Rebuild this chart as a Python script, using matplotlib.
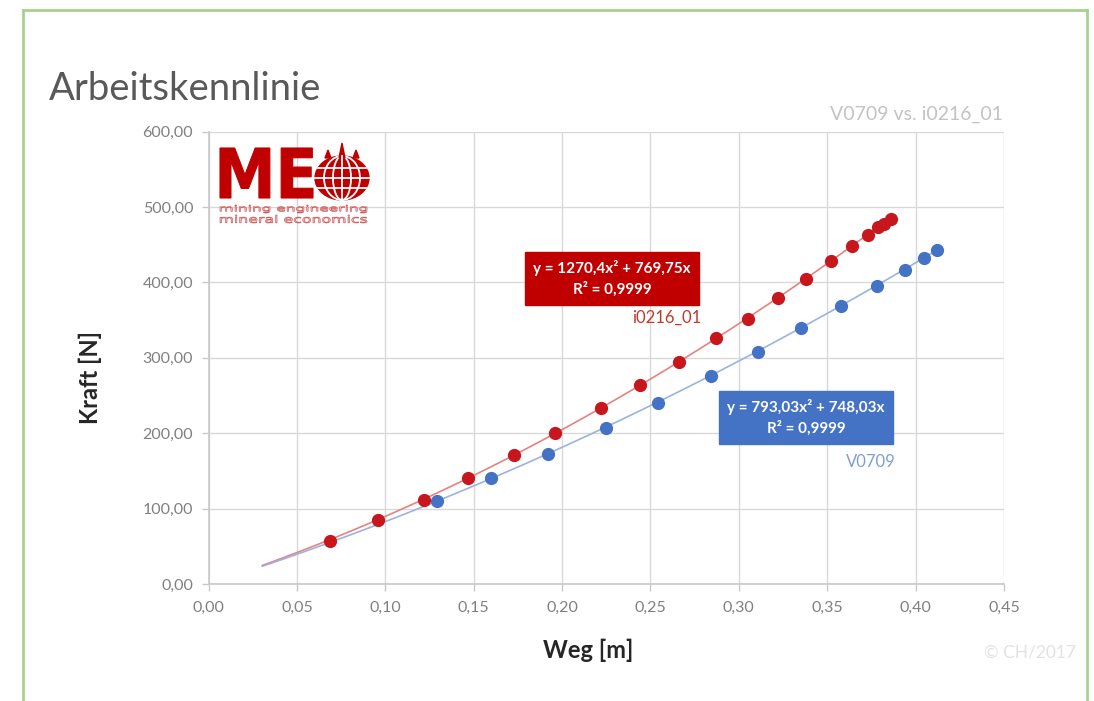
import numpy as np
import matplotlib
matplotlib.use("Agg")
import matplotlib.pyplot as plt
from matplotlib.patches import Ellipse, PathPatch, Polygon
from matplotlib.textpath import TextPath
from matplotlib.font_manager import FontProperties
from matplotlib.transforms import Affine2D
from matplotlib.ticker import FuncFormatter

plt.rcParams['font.family'] = ['Lato', 'DejaVu Sans']

# Measured force vs. displacement
x_i0216 = [0.069, 0.096, 0.122, 0.147, 0.173, 0.196, 0.222, 0.244, 0.266, 0.287,
           0.305, 0.322, 0.338, 0.352, 0.364, 0.373, 0.379, 0.382, 0.386]
y_i0216 = [57, 85, 112, 141, 171, 200, 234, 264, 294, 326,
           352, 380, 405, 428, 449, 463, 473, 478, 484]

x_v0709 = [0.129, 0.160, 0.192, 0.225, 0.254, 0.284, 0.311, 0.335, 0.358,
           0.378, 0.394, 0.405, 0.412]
y_v0709 = [110, 140, 172, 207, 240, 276, 308, 339, 369, 395, 417, 432, 443]

# Quadratic trendline coefficients (a*x^2 + b*x)
fit_i0216 = (1270.4, 769.75)
fit_v0709 = (793.03, 748.03)
r2_i0216 = "0,9999"
r2_v0709 = "0,9999"
trend_start = 0.03

x_ticks = [0.00, 0.05, 0.10, 0.15, 0.20, 0.25, 0.30, 0.35, 0.40, 0.45]
y_ticks = [0, 100, 200, 300, 400, 500, 600]

RED = '#c00000'
RED_MARK = '#c8161d'
RED_LINE = '#e8827f'
BLUE = '#4472c4'
BLUE_LINE = '#9bb3e0'
GRID = '#d9d9d9'
TICK_TXT = '#808080'

W, H = 1094, 701
fig = plt.figure(figsize=(W / 100, H / 100), dpi=100)
fig.patch.set_facecolor('white')

def fx(px):
    return px / W

def fy(py):
    return 1 - py / H

# Green slide frame (open at the bottom)
frame_kw = dict(color='#a9d18e', lw=2.0, transform=fig.transFigure, clip_on=False)
fig.add_artist(plt.Line2D([fx(23), fx(23)], [fy(10), 0], **frame_kw))
fig.add_artist(plt.Line2D([fx(1087), fx(1087)], [fy(10), 0], **frame_kw))
fig.add_artist(plt.Line2D([fx(23), fx(1087)], [fy(10), fy(10)], **frame_kw))

fig.text(fx(49), fy(89), "Arbeitskennlinie", fontsize=27.5, color='#595959',
         ha='left', va='center')
fig.text(fx(1003), fy(114), "V0709 vs. i0216_01", fontsize=14, color='#c3c3c3',
         ha='right', va='center')
fig.text(fx(1076), fy(652), "\u00a9 CH/2017", fontsize=12.5, color='#e2e2e2',
         ha='right', va='center')

ax = fig.add_axes([fx(208.5), fy(584), fx(1004) - fx(208.5), fy(131.7) - fy(584)])
ax.set_xlim(0, 0.45)
ax.set_ylim(0, 600)
ax.set_xticks(x_ticks)
ax.set_yticks(y_ticks)
ax.xaxis.set_major_formatter(FuncFormatter(lambda v, p: f"{v:.2f}".replace('.', ',')))
ax.yaxis.set_major_formatter(FuncFormatter(lambda v, p: f"{v:.2f}".replace('.', ',')))
ax.grid(True, color=GRID, lw=1.0)
ax.set_axisbelow(True)
for s in ['top', 'right']:
    ax.spines[s].set_visible(False)
for s in ['left', 'bottom']:
    ax.spines[s].set_color('#c8c8c8')
    ax.spines[s].set_linewidth(1.2)
ax.tick_params(axis='both', colors='#c8c8c8', labelcolor=TICK_TXT, labelsize=11.5,
               length=5, width=1.0, direction='out')
ax.tick_params(axis='x', pad=7)
ax.tick_params(axis='y', pad=6)
ax.set_xlabel("Weg [m]", fontsize=17, color='#262626', fontweight='bold')
ax.set_ylabel("Kraft [N]", fontsize=17, color='#262626', fontweight='bold')
ax.xaxis.set_label_coords((588 - 208.5) / (1004 - 208.5), (584 - 650) / (584 - 131.7))
ax.yaxis.set_label_coords((90 - 208.5) / (1004 - 208.5), (584 - 378) / (584 - 131.7))
ax.xaxis.label.set_va('center')
ax.yaxis.label.set_va('center')

# Trendlines
for xs, (a, b), col in [(x_i0216, fit_i0216, RED_LINE), (x_v0709, fit_v0709, BLUE_LINE)]:
    xt = np.linspace(trend_start, max(xs), 200)
    ax.plot(xt, a * xt ** 2 + b * xt, color=col, lw=1.2, zorder=2, solid_capstyle='butt')

ax.plot(x_v0709, y_v0709, 'o', color=BLUE, ms=8.5, mec=BLUE, zorder=3)
ax.plot(x_i0216, y_i0216, 'o', color=RED_MARK, ms=8.5, mec=RED_MARK, zorder=4)

def eq_text(a, b, r2):
    return (f"y = {str(a).replace('.', ',')}x\u00b2 + {str(b).replace('.', ',')}x\n"
            f"R\u00b2 = {r2}")

ax.text(0.2282, 405.5, eq_text(*fit_i0216, r2_i0216), ha='center', va='center',
        color='white', fontsize=11, fontweight='bold', linespacing=1.45, zorder=6,
        bbox=dict(boxstyle='square,pad=0.55', fc=RED, ec=RED))
ax.text(0.279, 352.5, "i0216_01", ha='right', va='center', color='#c0392b',
        fontsize=12, zorder=6)

ax.text(0.338, 221, eq_text(*fit_v0709, r2_v0709), ha='center', va='center',
        color='white', fontsize=11, fontweight='bold', linespacing=1.45, zorder=6,
        bbox=dict(boxstyle='square,pad=0.55', fc=BLUE, ec=BLUE))
ax.text(0.3885, 162.5, "V0709", ha='right', va='center', color='#7f9fd4',
        fontsize=12, zorder=6)

# Logo: pixel-space inset
lx0, ly0, lx1, ly1 = 215, 140, 375, 230
lax = fig.add_axes([fx(lx0), fy(ly1), fx(lx1) - fx(lx0), fy(ly0) - fy(ly1)])
lax.set_xlim(lx0, lx1)
lax.set_ylim(ly1, ly0)
lax.axis('off')
lax.patch.set_alpha(0)

def fitted_text(s, x0, y0, x1, y1, prop, **kw):
    tp = TextPath((0, 0), s, size=100, prop=prop)
    bb = tp.get_extents()
    sx = (x1 - x0) / bb.width
    sy = (y1 - y0) / bb.height
    tr = (Affine2D().translate(-bb.x0, -bb.y0).scale(sx, -sy).translate(x0, y1))
    lax.add_patch(PathPatch(tr.transform_path(tp), **kw))

fitted_text("ME", 220, 148, 313, 198,
            FontProperties(family='DejaVu Sans', weight='bold'),
            fc=RED, ec=RED, lw=0.8)
fitted_text("mining engineering", 220, 205, 367, 213,
            FontProperties(family='DejaVu Sans'),
            fc='#f2c4c4', ec='#c84040', lw=0.4)
fitted_text("mineral economics", 220, 215, 367, 223,
            FontProperties(family='DejaVu Sans'),
            fc='#f2c4c4', ec='#c84040', lw=0.4)

# Globe
gcx, gcy, gw, gh = 342, 178, 54, 44
lax.add_patch(Ellipse((gcx, gcy), gw, gh, fc=RED, ec=RED))
lax.plot([gcx, gcx], [gcy - gh / 2, gcy + gh / 2], color='white', lw=1.3)
for w in [18, 36]:
    lax.add_patch(Ellipse((gcx, gcy), w, gh, fc='none', ec='white', lw=1.3))
for dy in [-10, 0, 10]:
    half = (gw / 2) * np.sqrt(max(0.0, 1 - (2 * dy / gh) ** 2))
    lax.plot([gcx - half, gcx + half], [gcy + dy, gcy + dy], color='white', lw=1.3)
for dx, top in [(-14, 150), (0, 143), (14, 150)]:
    lax.add_patch(Polygon([[gcx + dx - 3, gcy - gh / 2 + 2], [gcx + dx + 3, gcy - gh / 2 + 2],
                           [gcx + dx, top]], closed=True, fc=RED, ec=RED))

fig.savefig("out.png", dpi=100, facecolor='white')
